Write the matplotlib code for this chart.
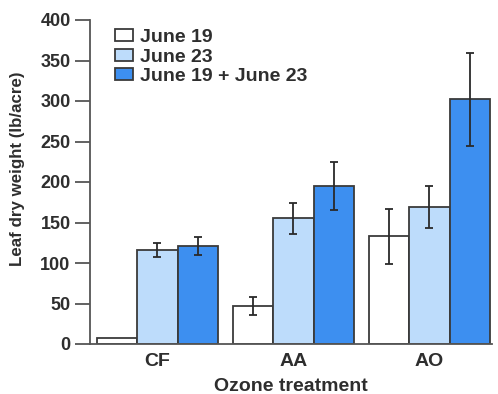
import matplotlib
matplotlib.use("Agg")
import matplotlib.pyplot as plt
import numpy as np

plt.rcParams['font.family'] = ['Liberation Sans', 'DejaVu Sans']

categories = ["CF", "AA", "AO"]
series_names = ["June 19", "June 23", "June 19 + June 23"]
june19 = [7, 47, 133]
june19_err = [0, 11, 34]
june23 = [116, 155, 169]
june23_err = [9, 19, 26]
both = [121, 195, 302]
both_err = [11, 30, 57]
yticks = [0, 50, 100, 150, 200, 250, 300, 350, 400]

colors = ["#ffffff", "#bddcfb", "#3d8ff0"]
edge = "#3a3a3a"
txt = "#2e2e2e"

fig = plt.figure(figsize=(4.98, 3.94), dpi=100)
ax = fig.add_axes([90/498, 1-344/394, 402/498, 324/394])

x = np.arange(len(categories))
w = 0.298
vals = [june19, june23, both]
errs = [june19_err, june23_err, both_err]
for i, (v, e) in enumerate(zip(vals, errs)):
    pos = x + (i - 1) * w
    ax.bar(pos, v, width=w, color=colors[i], edgecolor=edge, linewidth=1.3,
           label=series_names[i], zorder=2)
    ee = np.array(e, dtype=float)
    mask = ee > 0
    ax.errorbar(pos[mask], np.array(v)[mask], yerr=ee[mask], fmt='none',
                ecolor="#2a2a2a", elinewidth=1.3, capsize=3.2, capthick=1.3, zorder=3)

ax.set_xlim(-0.496, 2.46)
ax.set_ylim(0, 400)
ax.set_yticks(yticks)
ax.set_xticks(x)
ax.set_xticklabels(categories)
ax.tick_params(axis='x', length=0, pad=6.5, labelsize=14)
ax.tick_params(axis='y', length=10.5, width=1.3, color="#555555", pad=3.5, labelsize=13)
for lab in ax.get_xticklabels() + ax.get_yticklabels():
    lab.set_fontweight('bold')
    lab.set_color(txt)
for s in ['top', 'right']:
    ax.spines[s].set_visible(False)
for s in ['left', 'bottom']:
    ax.spines[s].set_color("#555555")
    ax.spines[s].set_linewidth(1.3)

ax.set_xlabel("Ozone treatment", fontsize=14, fontweight='bold', color=txt, labelpad=6)
ax.set_ylabel("Leaf dry weight (lb/acre)", fontsize=12.2, fontweight='bold', color=txt)
ax.yaxis.set_label_coords(-0.162, (344 - 169) / 324)

leg = ax.legend(loc='upper left', bbox_to_anchor=(25/402, 0.972), frameon=False,
                handlelength=0.9, handleheight=0.55, handletextpad=0.4,
                labelspacing=0.13, borderaxespad=0, borderpad=0,
                prop={'weight': 'bold', 'size': 14})
for t in leg.get_texts():
    t.set_color(txt)

fig.savefig("out.png", dpi=100, facecolor='white')
